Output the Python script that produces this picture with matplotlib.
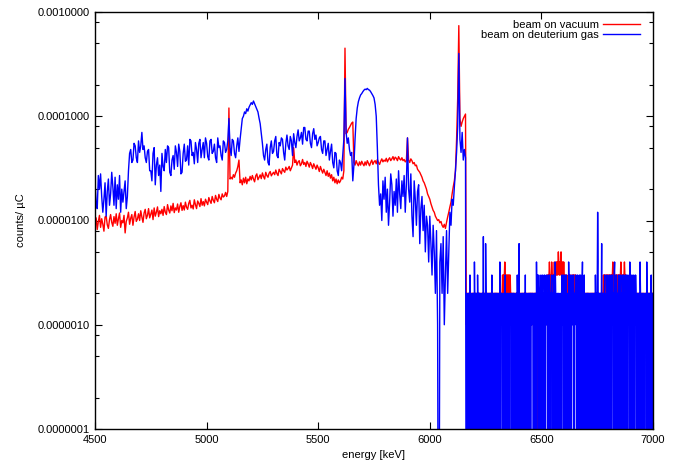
import matplotlib
matplotlib.use('Agg')
import matplotlib.pyplot as plt
import numpy as np
from matplotlib.ticker import LogLocator, NullFormatter, FixedLocator

plt.rcParams['font.family'] = ['Liberation Sans', 'DejaVu Sans']
plt.rcParams['font.size'] = 8

# main part: 5 keV bins 4500..6160, values in units of 1e-6 counts/uC
main_start, main_step = 4500, 5
vacuum_main = [
	9.0, 10.6, 8.2, 9.8, 11.2, 8.6, 10.4, 9.2, 7.9, 10.8, 11.0, 9.1, 8.4, 10.2, 11.4, 9.6, 8.8, 10.9, 9.4, 11.6,
	9.0, 10.4, 11.8, 8.6, 10.0, 9.5, 11.2, 7.6, 9.8, 10.6, 12.0, 9.2, 10.5, 11.4, 9.0, 10.8, 12.2, 9.8, 10.3, 11.6,
	10.0, 12.4, 10.8, 9.6, 11.8, 12.8, 10.4, 11.2, 13.0, 10.6, 11.5, 12.6, 10.2, 13.2, 11.0, 12.0, 13.5, 10.9, 12.4, 11.6,
	12.8, 11.2, 13.6, 12.0, 11.4, 14.2, 12.6, 11.8, 13.8, 12.4, 14.6, 11.9, 13.2, 12.6, 14.4, 12.0, 13.6, 14.8, 12.5, 13.9,
	12.6, 15.0, 13.4, 12.8, 14.6, 15.6, 13.2, 14.0, 12.9, 15.8, 14.2, 13.0, 15.4, 14.6, 13.6, 16.2, 14.0, 15.2, 13.8, 16.0,
	15.0, 14.2, 16.6, 15.4, 14.6, 17.0, 15.6, 14.8, 17.4, 16.0, 15.2, 17.8, 16.4, 15.8, 18.0, 16.8, 17.2, 18.6, 17.0, 19.0,
	120, 25, 26, 25, 27.5, 26, 28.5, 30, 33, 38, 23, 24.5, 22, 25.5, 23, 26, 22.5, 25, 24, 26.5,
	24.5, 27, 25, 23.5, 26.8, 28, 24.6, 26, 27.4, 25.2, 28.6, 26.4, 25, 29, 27, 26, 28.4, 29.5, 26.8, 28,
	29, 27.5, 30.5, 28.2, 27, 31, 29.5, 28, 31.5, 30, 29, 32.5, 30.5, 31.5, 33, 30, 32, 34, 50, 36,
	38, 34, 36.5, 37.5, 33.5, 35, 38.5, 34.5, 36, 33, 37, 35, 32.5, 36, 34, 31.5, 35, 33, 31, 34,
	32, 29.5, 33, 30.5, 28.5, 31, 29, 27, 30, 26.5, 28.5, 25.5, 27.5, 24, 26, 23, 25, 22.5, 24.5, 23,
	24, 26, 25, 30, 450, 68, 70, 75, 78, 82, 86, 88, 36, 34, 37.5, 35, 33.5, 36.5, 34, 37,
	35, 33.5, 36.5, 34, 37.5, 35.5, 33.5, 36, 38, 34.5, 36.5, 37.5, 35, 38.5, 36, 34.5, 37, 39, 36.5, 38,
	37, 39.5, 36.5, 38.5, 40, 37.5, 39, 41, 38, 40.5, 39.5, 37.5, 41, 39, 38, 40, 37.5, 38.5, 36.5, 37.5,
	62, 38, 36, 39, 37.5, 35, 36, 33.5, 34, 31, 30, 29, 27.5, 26, 24, 23, 21.5, 20, 18, 17,
	16, 14.5, 13.5, 12.5, 12, 11, 10.5, 10, 10.2, 9.5, 9.8, 9.0, 8.6, 9.2, 8.4, 9.6, 10.8, 12, 13.5, 15,
	18, 21, 24, 30, 60, 150, 740, 95, 80, 88, 95, 100, 105,
]
deuterium_main = [
	24, 15, 13, 27, 20, 28, 17, 12, 16, 23, 11, 19, 25, 14, 18, 29, 21, 14, 26, 13,
	22, 16, 27, 12, 20, 15, 19, 24, 13, 17, 30, 44, 48, 36, 38, 55, 52, 40, 36, 58,
	45, 52, 70, 48, 52, 40, 36, 46, 48, 30, 30, 24, 44, 50, 22, 34, 40, 27, 34, 19,
	44, 33, 30, 48, 36, 52, 50, 29, 27, 38, 42, 31, 52, 45, 33, 54, 46, 28, 29, 44,
	54, 37, 38, 52, 34, 60, 58, 42, 45, 35, 56, 48, 36, 55, 60, 40, 48, 56, 40, 62,
	55, 41, 38, 58, 60, 44, 46, 54, 40, 36, 62, 50, 52, 42, 38, 58, 56, 45, 48, 58,
	95, 50, 42, 60, 58, 44, 40, 52, 62, 46, 60, 75, 95, 100, 110, 106, 118, 112, 122, 128,
	135, 130, 140, 132, 125, 118, 110, 96, 85, 68, 55, 42, 38, 48, 54, 36, 34, 50, 58, 44,
	46, 58, 64, 42, 40, 56, 52, 62, 60, 45, 38, 55, 66, 52, 48, 64, 58, 42, 68, 56,
	50, 64, 74, 58, 62, 70, 54, 78, 78, 60, 58, 72, 72, 55, 50, 68, 76, 60, 66, 52,
	56, 62, 64, 48, 44, 58, 58, 42, 48, 55, 38, 46, 54, 36, 32, 45, 44, 30, 27, 38,
	36, 30, 42, 60, 230, 70, 55, 62, 48, 42, 45, 24, 34, 60, 95, 120, 138, 150, 160, 165,
	172, 178, 182, 180, 185, 180, 178, 172, 165, 158, 150, 130, 100, 50, 22, 14, 18, 10, 24, 16,
	26, 12, 20, 9, 15, 28, 22, 11, 19, 14, 25, 12, 30, 18, 13, 24, 17, 27, 12, 22,
	62, 20, 15, 28, 11, 7, 24, 16, 9, 19, 22, 6, 13, 17, 8, 14, 5, 11, 9, 4,
	11, 6, 3, 9, 5, 2, 8, 1, 0, 4, 6, 2, 7, 1, 3, 8, 2, 5, 12, 9,
	16, 14, 21, 30, 45, 80, 400, 60, 45, 70, 38, 48, 40,
]

# tail: 2 keV bins from 6164 on, one hex digit per bin = counts in 1e-6 units
tail_start, tail_step = 6164, 2
vacuum_tail = (
	'12121221201212212121' '21212121221212121212' '12212121212121221212'
	'21212212121221212121' '23232343232332323232' '22121221212121221212'
	'21212121221212121212' '12122121212121221201' '11012121221212121221'
	'23232343232432323433' '34343454343453434343' '32322321232123212323'
	'23232322121221212121' '21221212121221212121' '21212212121221212121'
	'12122123232332323232' '32323323432323232323' '23232343232323432322'
	'21212212121221212121' '21221212121221212121' '21212121221212121212'
)
deuterium_tail = (
	'02012021302102012041' '20120312022102012070' '21062012021120201302'
	'01202120221012040212' '20120213020122012021' '12021202101220312060'
	'20121022012030212012' '02120212210202120413' '20312023012302130223'
	'12032031202312032014' '20120212012020312302' '13023012042031203212'
	'30212320130213023012' '40213012021202120120' '21202012031202c40212'
	'02160212023012032012' '30213023120340213021' '23012302132031203213'
	'02312041302302130213' '20120212042012021201' '21204120212021302120'
)


def series(main, tail):
	x = np.concatenate([main_start + main_step * np.arange(len(main)),
						tail_start + tail_step * np.arange(len(tail))])
	v = np.array(list(main) + [int(c, 16) for c in tail], dtype=float) * 1e-6
	# empty bins drop below the axis floor
	return x, np.where(v > 0, v, 1e-10)


x_vac, y_vac = series(vacuum_main, vacuum_tail)
x_deu, y_deu = series(deuterium_main, deuterium_tail)

fig = plt.figure(figsize=(6.8, 4.63), dpi=100)
ax = fig.add_axes([95 / 680, 1 - 429 / 463, 558 / 680, 417 / 463])

ax.plot(x_vac, y_vac, color='#ff0000', lw=1.0, label='beam on vacuum')
ax.plot(x_deu, y_deu, color='#0000ff', lw=1.0, label='beam on deuterium gas')

ax.set_yscale('log')
ax.set_xlim(4500, 7000)
ax.set_ylim(1e-7, 1e-3)

ax.xaxis.set_major_locator(FixedLocator([4500, 5000, 5500, 6000, 6500, 7000]))
ax.yaxis.set_major_locator(FixedLocator([1e-7, 1e-6, 1e-5, 1e-4, 1e-3]))
ax.yaxis.set_major_formatter(plt.FuncFormatter(lambda v, p: f'{v:.7f}'))
ax.yaxis.set_minor_locator(LogLocator(base=10, subs=(2, 5, 8)))
ax.yaxis.set_minor_formatter(NullFormatter())

ax.tick_params(which='both', direction='in', top=True, right=True, labelsize=8, color='black')
ax.tick_params(which='major', length=5, width=0.8, pad=4)
ax.tick_params(which='minor', length=3, width=0.8)
for spine in ax.spines.values():
	spine.set_linewidth(1.0)

ax.set_xlabel('energy [keV]', fontsize=8, labelpad=4)
ax.set_ylabel('counts/ µC', fontsize=8, labelpad=8)

ax.legend(
	loc='upper right',
	bbox_to_anchor=(0.977, 0.98),
	frameon=False,
	markerfirst=False,
	handlelength=3.3,
	handletextpad=0.4,
	labelspacing=0.0,
	borderpad=0,
	borderaxespad=0,
	fontsize=8,
)

plt.savefig('out.png', dpi=100)
plt.close()
